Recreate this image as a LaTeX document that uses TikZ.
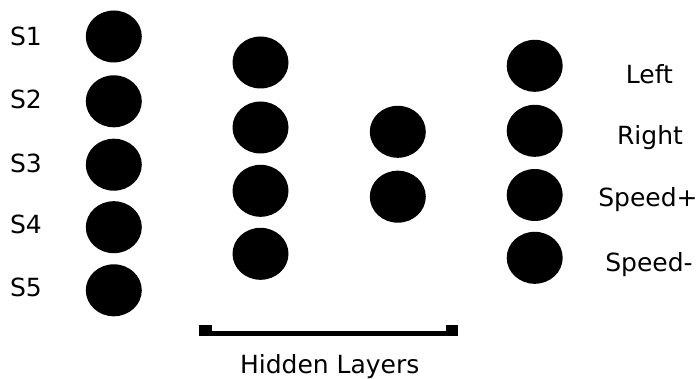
\documentclass[tikz,border=0pt]{standalone}
\usepackage{fontspec}
\setmainfont{DejaVu Sans}
\usetikzlibrary{shapes.geometric}
\begin{document}
\begin{tikzpicture}[x=1pt,y=-1pt,
  neuron/.style={ellipse,fill=black,draw=none,minimum width=56pt,minimum height=52pt,inner sep=0pt},
  lbl/.style={anchor=base,inner sep=0pt,font=\fontsize{25}{29}\selectfont}]
\useasboundingbox (0,0) rectangle (698,379);
% input layer
\node[neuron] (i1) at (113.8,36.5) {};
\node[neuron] (i2) at (113.8,101.3) {};
\node[neuron] (i3) at (113.8,164.7) {};
\node[neuron] (i4) at (113.8,227.2) {};
\node[neuron] (i5) at (113.8,290.3) {};
% hidden layer 1
\node[neuron] (h1) at (260.5,62.5) {};
\node[neuron] (h2) at (260.5,127.5) {};
\node[neuron] (h3) at (260.5,190.8) {};
\node[neuron] (h4) at (260.5,253.8) {};
% hidden layer 2
\node[neuron] (g1) at (397.8,131.8) {};
\node[neuron] (g2) at (397.8,196.7) {};
% output layer
\node[neuron] (o1) at (534.7,65.8) {};
\node[neuron] (o2) at (534.7,130.8) {};
\node[neuron] (o3) at (534.7,195) {};
\node[neuron] (o4) at (534.7,257.8) {};
% labels
\node[lbl] (s1) at (26,45.7) {S1};
\node[lbl] (s2) at (26,109) {S2};
\node[lbl] (s3) at (26,172.3) {S3};
\node[lbl] (s4) at (26,234) {S4};
\node[lbl] (s5) at (26,296.7) {S5};
\node[lbl] (l1) at (649.5,83.3) {Left};
\node[lbl] (l2) at (650,145) {Right};
\node[lbl] (l3) at (648,206.7) {Speed+};
\node[lbl] (l4) at (649,271.7) {Speed-};
% bracket
\coordinate (bl) at (199.3,333.3);
\coordinate (br) at (458.3,333.3);
\draw[line width=5pt] (bl) -- (br);
\fill (199.3,325) rectangle (211.7,336);
\fill (445.9,325) rectangle (458.3,336);
\node[lbl] (hl) at (329.7,373.3) {Hidden Layers};
\end{tikzpicture}
\end{document}
